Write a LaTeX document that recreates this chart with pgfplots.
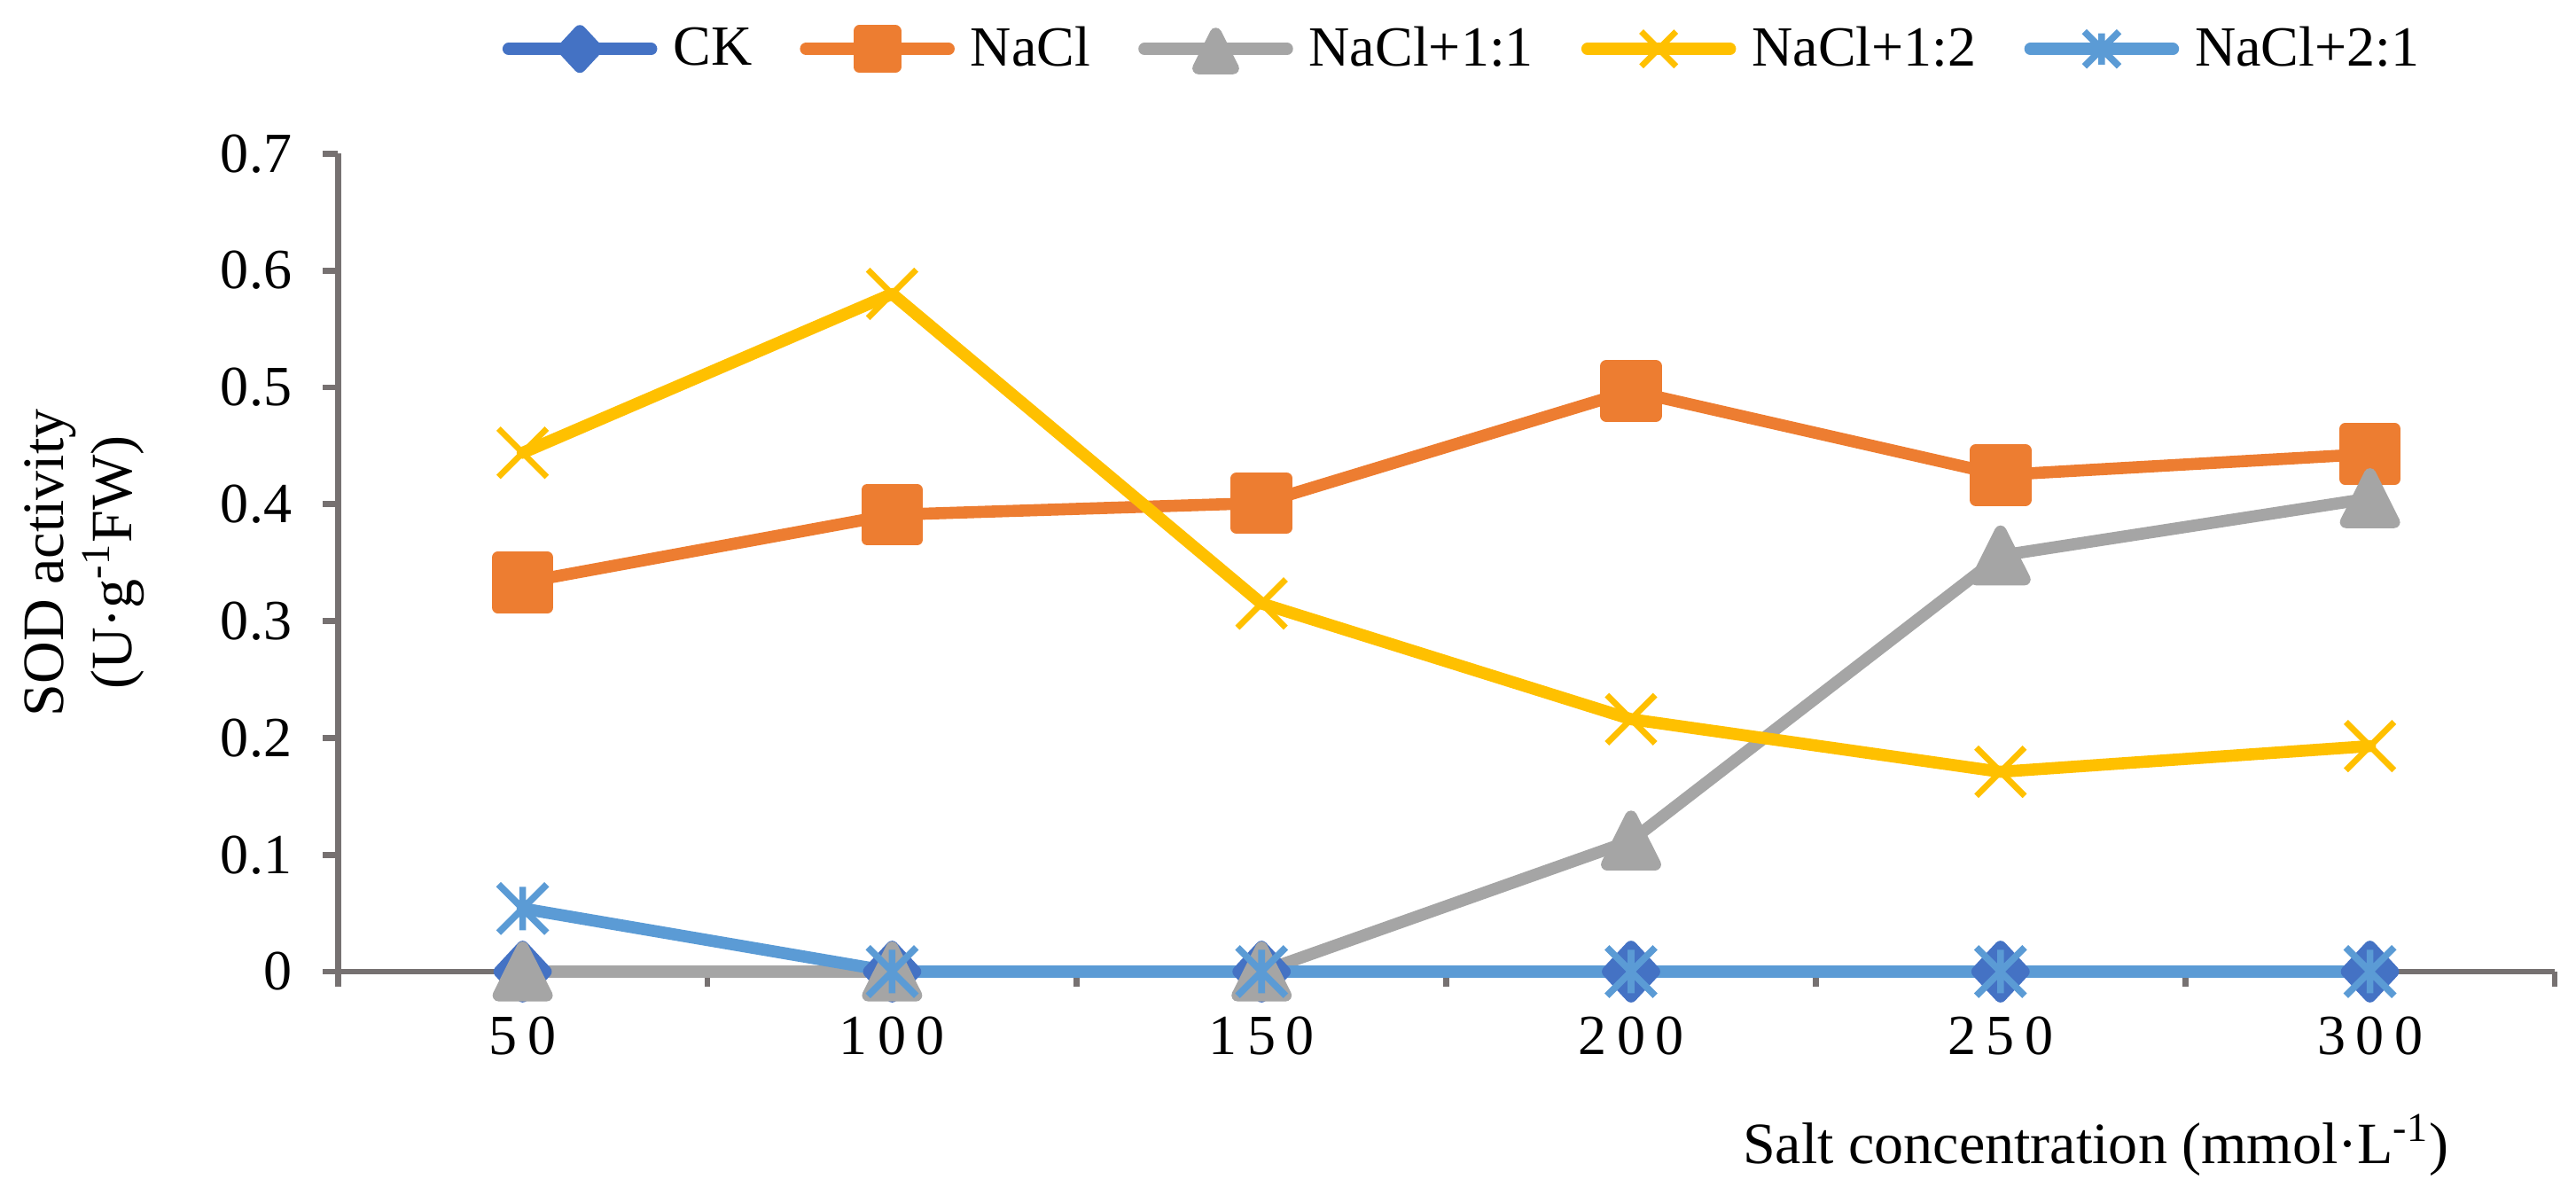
\documentclass[border=0pt]{standalone}
\usepackage{fontspec}
\setmainfont{Liberation Serif}
\usepackage{pgfplots}
\pgfplotsset{compat=1.18}

\definecolor{ckblue}{HTML}{4472C4}
\definecolor{naclor}{HTML}{ED7D31}
\definecolor{gry}{HTML}{A5A5A5}
\definecolor{gold}{HTML}{FFC000}
\definecolor{ltblue}{HTML}{5B9BD5}
\definecolor{axgray}{HTML}{767171}

\newfontfamily\spaced[LetterSpace=18]{Liberation Serif}

% Excel-like markers
\pgfdeclareplotmark{xcross}{%
  \pgfpathmoveto{\pgfqpoint{-\pgfplotmarksize}{-\pgfplotmarksize}}%
  \pgfpathlineto{\pgfqpoint{\pgfplotmarksize}{\pgfplotmarksize}}%
  \pgfpathmoveto{\pgfqpoint{-\pgfplotmarksize}{\pgfplotmarksize}}%
  \pgfpathlineto{\pgfqpoint{\pgfplotmarksize}{-\pgfplotmarksize}}%
  \pgfusepathqstroke}
\pgfdeclareplotmark{xstar}{%
  \pgfpathmoveto{\pgfqpoint{-\pgfplotmarksize}{-\pgfplotmarksize}}%
  \pgfpathlineto{\pgfqpoint{\pgfplotmarksize}{\pgfplotmarksize}}%
  \pgfpathmoveto{\pgfqpoint{-\pgfplotmarksize}{\pgfplotmarksize}}%
  \pgfpathlineto{\pgfqpoint{\pgfplotmarksize}{-\pgfplotmarksize}}%
  \pgfpathmoveto{\pgfqpoint{0pt}{-0.9\pgfplotmarksize}}%
  \pgfpathlineto{\pgfqpoint{0pt}{0.9\pgfplotmarksize}}%
  \pgfusepathqstroke}

\pgfplotsset{ser/.style={line width=3.4pt, line join=round, line cap=round}}

\begin{document}
\begin{tikzpicture}
\begin{axis}[
  width=624.75pt, height=230.5pt, scale only axis,
  xmin=-0.5, xmax=5.5, ymin=0, ymax=0.7,
  axis x line*=bottom, axis y line*=left,
  axis line style={axgray, line width=1.7pt},
  xtick={0,1,2,3,4,5},
  xticklabels={{\spaced 50},{\spaced 100},{\spaced 150},{\spaced 200},{\spaced 250},{\spaced 300}},
  major x tick style={draw=none},
  minor xtick={-0.5,0.5,1.5,2.5,3.5,4.5,5.5},
  minor x tick style={axgray, line width=1.7pt},
  minor tick length=4.3pt,
  ytick={0,0.1,...,0.7},
  y tick style={axgray, line width=1.7pt},
  major tick length=4.3pt,
  tick align=outside,
  yticklabel style={/pgf/number format/fixed, /pgf/number format/precision=1, xshift=-5.2pt},
  /pgf/number format/assume math mode=true,
  ticklabel style={font=\fontsize{16}{19}\selectfont},
  xticklabel style={yshift=-5pt},
  ylabel={SOD activity\\(U·g\textsuperscript{-1}FW)},
  ylabel style={font=\fontsize{16.5}{19.3}\selectfont, align=center, anchor=center,
    inner sep=7pt, at={(axis description cs:-0.1142,0.5)}},
  xlabel={Salt concentration (mmol·L\textsuperscript{-1})},
  xlabel style={font=\fontsize{16.5}{19}\selectfont, inner sep=7.5pt,
    at={(axis description cs:0.793,-0.2125)}, anchor=center},
  legend columns=5,
  legend style={draw=none, at={(0.5066,1.128)}, anchor=center, inner sep=7.5pt,
    font=\fontsize{16}{19}\selectfont,
    nodes={inner sep=0pt},
    /tikz/every odd column/.append style={column sep=4.5pt},
    /tikz/every even column/.append style={column sep=13.5pt}},
  legend image code/.code={
    \draw[mark repeat=2,mark phase=2,every mark/.append style={scale=0.72}]
      plot coordinates {(0pt,0pt) (20.1pt,0pt) (40.2pt,0pt)};},
  clip=false,
]
\addplot[ser, ckblue, mark=diamond*, mark size=7pt, mark options={xscale=1.24}]
  coordinates {(0,0) (1,0) (2,0) (3,0) (4,0) (5,0)};
\addplot[ser, naclor, mark=square*, mark size=7pt]
  coordinates {(0,0.333) (1,0.391) (2,0.401) (3,0.497) (4,0.425) (5,0.443)};
\addplot[ser, gry, mark=triangle*, mark size=9pt, mark options={xscale=0.87, yshift=-2.2pt}]
  coordinates {(0,0) (1,0) (2,0) (3,0.112) (4,0.356) (5,0.405)};
\addplot[ser, gold, mark=xcross, mark size=6.8pt, mark options={line width=1.7pt, line cap=butt}]
  coordinates {(0,0.444) (1,0.580) (2,0.315) (3,0.216) (4,0.171) (5,0.193)};
\addplot[ser, ltblue, mark=xstar, mark size=6.8pt, mark options={line width=1.9pt, line cap=butt}]
  coordinates {(0,0.054) (1,0) (2,0) (3,0) (4,0) (5,0)};
\legend{CK,NaCl,NaCl+1:1,NaCl+1:2,NaCl+2:1}
% a little white room right of the axis end
\path (axis description cs:1,0) ++(6pt,0pt);
\end{axis}
\end{tikzpicture}
\end{document}
